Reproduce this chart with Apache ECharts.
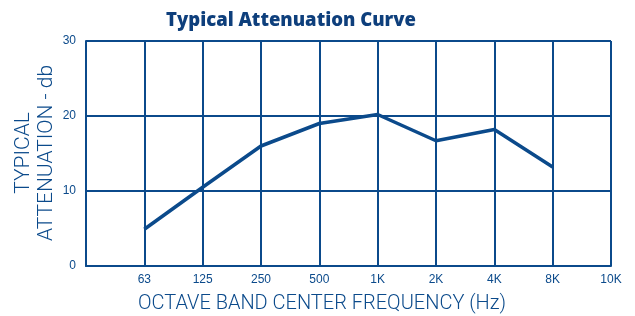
<!DOCTYPE html>
<html><head><meta charset="utf-8">
<script src="https://cdn.jsdelivr.net/npm/echarts@6/dist/echarts.min.js"></script>
<style>html,body{margin:0;padding:0;background:#fff}#c{width:635px;height:316px}</style>
</head><body><div id="c"></div>
<script>
var categories = ["", "63", "125", "250", "500", "1K", "2K", "4K", "8K", "10K"];
var attenuation = [null, 4.9, 10.5, 16.0, 19.0, 20.2, 16.7, 18.2, 13.2, null];
var yTicks = [0, 10, 20, 30];
var titleText = "Typical Attenuation Curve";
var xName = "OCTAVE BAND CENTER FREQUENCY (Hz)";
var yName = "TYPICAL\nATTENUATION - db";

var blue = "#0b4a8b";
var chart = echarts.init(document.getElementById('c'));
chart.setOption({
  animation: false,
  title: {
    text: titleText, left: 286, top: 6, textAlign: 'center',
    textStyle: {fontFamily: 'Open Sans', fontWeight: 800, fontSize: 18.5, color: '#0e3f7c'}
  },
  grid: {left: 86, right: 24, top: 41, bottom: 50, containLabel: false, outerBoundsMode: 'none'},
  xAxis: {
    type: 'category', data: categories, boundaryGap: false,
    axisLine: {lineStyle: {color: blue, width: 2}},
    axisTick: {show: false},
    axisLabel: {color: blue, fontSize: 12, fontFamily: 'Liberation Sans', margin: 8},
    splitLine: {show: true, lineStyle: {color: blue, width: 2}}
  },
  yAxis: {
    type: 'value', min: 0, max: 30, interval: 10,
    axisLine: {show: true, lineStyle: {color: blue, width: 2}},
    axisTick: {show: false},
    axisLabel: {color: blue, fontSize: 12, fontFamily: 'Liberation Sans', margin: 10,
      formatter: function (v) { return yTicks.indexOf(v) >= 0 ? String(v) : ''; }},
    splitLine: {show: true, lineStyle: {color: blue, width: 2}}
  },
  graphic: [
    {type: 'text', x: 322, y: 304, style: {text: xName, fill: blue, font: '300 20px Roboto', textAlign: 'center', textVerticalAlign: 'middle'}},
    {type: 'text', x: 35, y: 153, rotation: Math.PI / 2, style: {text: yName, fill: blue, font: '300 21px Roboto', lineHeight: 23, textAlign: 'center', textVerticalAlign: 'middle'}}
  ],
  series: [{
    type: 'line', data: attenuation, symbol: 'none', connectNulls: false,
    lineStyle: {color: blue, width: 3.5}
  }]
});
</script></body></html>
